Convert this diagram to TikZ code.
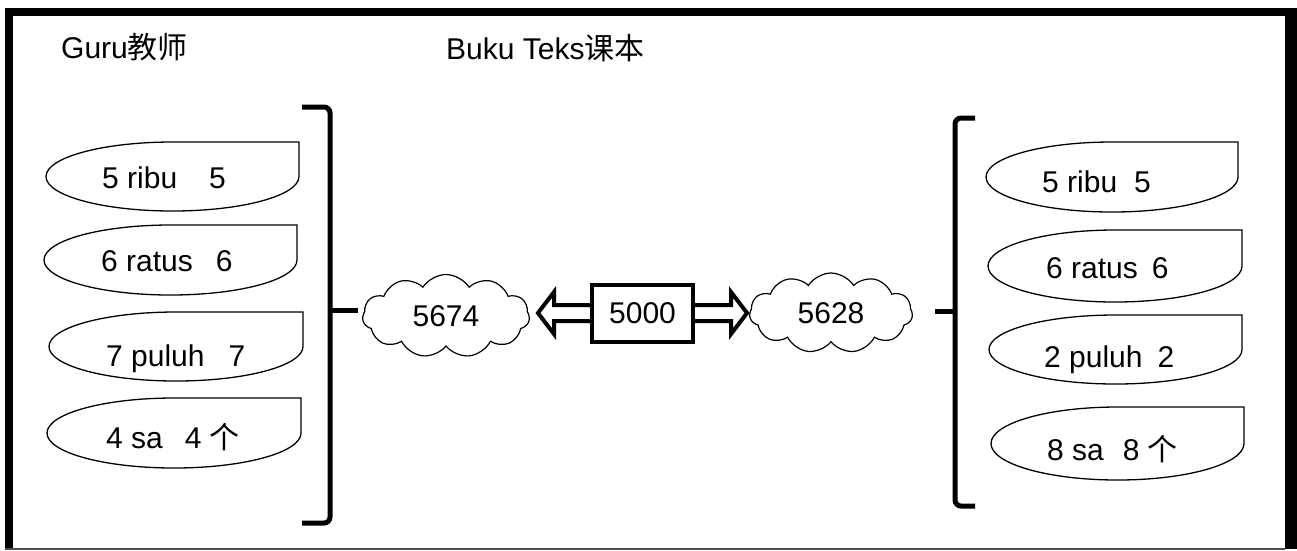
\documentclass[tikz,border=0pt]{standalone}
\usepackage{fontspec}
\setmainfont{Liberation Sans}
\newfontfamily\cjk{Noto Sans CJK SC}
\usetikzlibrary{shapes.symbols}
\tikzset{
  tabline/.style={draw=black, line width=1.3pt, fill=white},
  lbl/.style={font=\fontsize{30}{33}\selectfont, inner sep=0pt, anchor=base west},
  ttl/.style={font=\fontsize{30}{33}\selectfont, inner sep=0pt, anchor=base west},
  brk/.style={draw=black, line width=5pt, rounded corners=6pt},
  cloudbox/.style={cloud, draw=black, line width=1.2pt, cloud puffs=11, cloud puff arc=115, aspect=2, inner sep=0pt, font=\fontsize{30}{33}\selectfont},
  blockarrow/.style={draw=black, line width=4pt, fill=white, line join=miter},
  numbox/.style={draw=black, line width=4pt, fill=white, minimum width=101pt, minimum height=57pt, inner sep=0pt, font=\fontsize{30}{33}\selectfont}
}
\newcommand\tabshape[4]{%
  \draw[tabline] ({(#1+#3)/2},#2) -- (#3,#2) -- (#3,{(#2+#4)/2})
    .. controls (#3,{(#2+#4)/2+0.2762*(#4-#2)}) and ({(#1+#3)/2+0.2762*(#3-#1)},#4) .. ({(#1+#3)/2},#4)
    .. controls ({(#1+#3)/2-0.2762*(#3-#1)},#4) and (#1,{(#2+#4)/2+0.2762*(#4-#2)}) .. (#1,{(#2+#4)/2})
    .. controls (#1,{(#2+#4)/2-0.2762*(#4-#2)}) and ({(#1+#3)/2-0.2762*(#3-#1)},#2) .. ({(#1+#3)/2},#2) -- cycle;}
\begin{document}
\begin{tikzpicture}[x=1pt, y=-1pt]
\useasboundingbox (0,0) rectangle (1297,550);
\fill[white] (0,0) rectangle (1297,550);
% frame
\fill[black] (5,8) rectangle (1297,16);
\fill[black] (5,8) rectangle (13,549);
\fill[black] (1285,8) rectangle (1297,549);
\fill[black!70] (5,547.5) rectangle (1285,549.5);
% titles
\node[ttl] (t1) at (61,58) {Guru{\cjk 教师}};
\node[ttl] (t2) at (446,59) {Buku Teks{\cjk 课本}};
% left shapes
\tabshape{46}{142}{299}{211}
\tabshape{44}{225}{297}{295}
\tabshape{49}{312}{303}{381}
\tabshape{47}{398}{301}{468}
\node[lbl] (l1) at (102,188) {5 ribu\hspace{32pt}5};
\node[lbl] (l2) at (101,271) {6 ratus\hspace{23pt}6};
\node[lbl] (l3) at (106,366) {7 puluh\hspace{24pt}7};
\node[lbl] (l4) at (106,448) {4 sa\hspace{22pt}4 {\cjk 个}};
% right shapes
\tabshape{986}{142}{1238}{212}
\tabshape{988}{230}{1242}{302}
\tabshape{989}{315}{1242}{384}
\tabshape{991}{407}{1244}{480}
\node[lbl] (r1) at (1042,192) {5 ribu\hspace{17pt}5};
\node[lbl] (r2) at (1046,278) {6 ratus\hspace{14pt}6};
\node[lbl] (r3) at (1044,367) {2 puluh\hspace{15pt}2};
\node[lbl] (r4) at (1047,460) {8 sa\hspace{19pt}8 {\cjk 个}};
% brackets
\coordinate (lbtip) at (330,310);
\coordinate (lbend) at (358,310);
\coordinate (rbtip) at (955,311);
\coordinate (rbend) at (935,311);
\draw[brk] (302,107) -- (330,107) -- (330,523) -- (302,523);
\draw[brk, rounded corners=0pt] (lbtip) -- (lbend);
\draw[brk] (975,118) -- (955,118) -- (955,506) -- (975,506);
\draw[brk, rounded corners=0pt] (rbtip) -- (rbend);
% clouds
\node[cloudbox, minimum width=167pt, minimum height=83pt] (c1) at (446,316) {5674};
\node[cloudbox, minimum width=163pt, minimum height=80pt] (c2) at (831,313) {5628};
% double block arrow
\coordinate (at1) at (538,313);
\coordinate (at2) at (747,313);
\draw[blockarrow] (at1) -- (554,292) -- (554,305) -- (731,305) -- (731,292) -- (at2) -- (731,334) -- (731,321) -- (554,321) -- (554,334) -- cycle;
\node[numbox] (n) at (642.5,313.5) {5000};
\end{tikzpicture}
\end{document}
